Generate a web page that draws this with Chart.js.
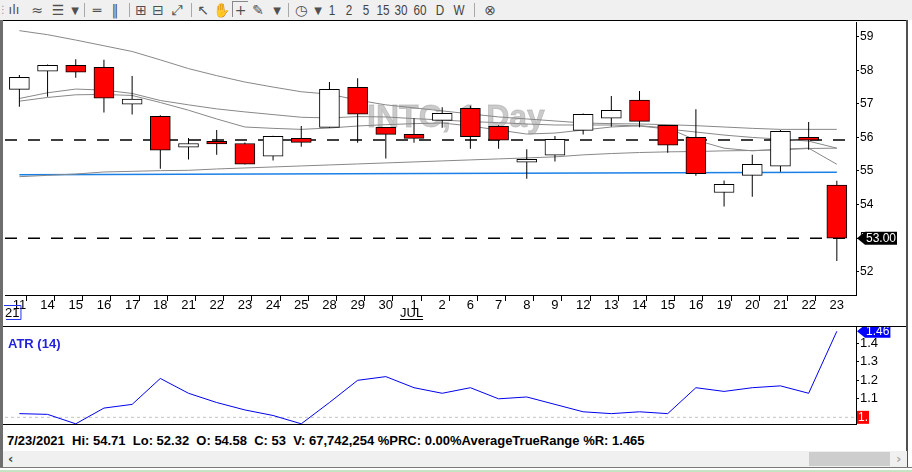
<!DOCTYPE html>
<html>
<head>
<meta charset="utf-8">
<script src="https://cdn.jsdelivr.net/npm/chart.js@4.4.1/dist/chart.umd.min.js"></script>
<style>
  body { margin:0; width:912px; height:472px; overflow:hidden; background:#fff; position:relative; font-family:'Liberation Sans', Arial, sans-serif; }
  #toolbar { position:absolute; left:0; top:0; width:912px; height:20px; background:#f0f0f0; }
  #toolbar span { position:absolute; top:1px; font-size:14px; line-height:18px; color:#505050; transform:translateX(-50%); white-space:nowrap; font-family:'DejaVu Sans', sans-serif; }
  #toolbar span.n { font-family:'Liberation Sans', Arial, sans-serif; font-size:15px; transform:translateX(-50%) scaleX(0.78); color:#444; }
  #toolbar span.s { top:3px; width:1px; height:14px; background:#a8a8a8; transform:none; }
  #toolbar span.dd { font-size:10px; top:2px; }
  .ln { position:absolute; }
  canvas { position:absolute; left:0; }
  #atrTitle { position:absolute; left:8px; top:336px; font:bold 13px/15px 'Liberation Sans', Arial, sans-serif; color:#2222dd; }
  #status { position:absolute; left:7px; top:433px; font:bold 13px/15px 'Liberation Sans', Arial, sans-serif; white-space:pre; color:#000; }
  #scroll { position:absolute; left:3px; top:451px; width:904px; height:16px; background:#f0f0f0; }
  #thumb { position:absolute; left:806px; top:1px; width:81px; height:14px; background:#cdcdcd; }
  #scroll .arr { position:absolute; top:0; font:bold 13px/16px 'DejaVu Sans', sans-serif; }
</style>
</head>
<body>
<div id="toolbar">
  <span style="left:3px;font-size:10px;color:#999">⋮</span>
  <span style="left:14px;font-size:13px">ılı</span>
  <span style="left:37px">≈</span>
  <span style="left:58px">☰</span>
  <span class="dd" style="left:75px">▼</span>
  <span class="s" style="left:84px"></span>
  <span style="left:97px">═</span>
  <span style="left:115px">‖</span>
  <span class="s" style="left:129px"></span>
  <span style="left:141px">⊞</span>
  <span style="left:158px">⊟</span>
  <span style="left:177px">⤢</span>
  <span class="s" style="left:191px"></span>
  <span style="left:203px">↖</span>
  <span style="left:221px">✋</span>
  <span style="left:240px;width:16px;height:16px;top:1px;line-height:16px;text-align:center;border-left:1px solid #888;border-top:1px solid #888;box-sizing:border-box">+</span>
  <span style="left:258px">✎</span>
  <span class="dd" style="left:277px">▼</span>
  <span class="s" style="left:288px"></span>
  <span style="left:301px">◷</span>
  <span class="dd" style="left:318px">▼</span>
  <span class="n" style="left:332px">1</span>
  <span class="n" style="left:349px">2</span>
  <span class="n" style="left:366px">5</span>
  <span class="n" style="left:383px">15</span>
  <span class="n" style="left:401px">30</span>
  <span class="n" style="left:420px">60</span>
  <span class="n" style="left:440px">D</span>
  <span class="n" style="left:459px">W</span>
  <span class="s" style="left:474px"></span>
  <span style="left:490px">⊗</span>
</div>
<div class="ln" style="left:0;top:20px;width:908px;height:1px;background:#000"></div>

<canvas id="price" width="912" height="305" style="top:21px;width:912px;height:305px"></canvas>
<canvas id="atr" width="912" height="98" style="top:326px;width:912px;height:98px"></canvas>

<div class="ln" style="left:0;top:326px;width:908px;height:1px;background:#000"></div>
<div class="ln" style="left:0;top:424px;width:857px;height:1px;background:#000"></div>
<div class="ln" style="left:0;top:20px;width:3px;height:447px;background:#6e6e6e"></div>
<div class="ln" style="left:906px;top:20px;width:2px;height:447px;background:#505050"></div>

<div id="atrTitle"></div>
<div id="status"></div>
<div id="scroll"><span class="arr" style="left:5px;color:#444">‹</span><div id="thumb"></div><span class="arr" style="left:893px;color:#aaa">›</span></div>
<div class="ln" style="left:0;top:467px;width:912px;height:1px;background:#7a7a7a"></div>
<div class="ln" style="left:0;top:470px;width:912px;height:2px;background:#c4e4c4"></div>

<script>
// INTC daily, 11 Jun - 23 Jul 2021
const dayLabels = ['11','14','15','16','17','18','21','22','23','24','25','28','29','30','1','2','6','7','8','9','12','13','14','15','16','19','20','21','22','23'];
const opens  = [57.43,57.97,58.15,58.09,56.99,56.63,55.71,55.88,55.82,55.44,55.97,56.30,57.49,56.30,56.09,56.51,56.87,56.33,55.26,55.47,56.21,56.57,57.11,56.36,56.00,54.36,54.87,55.14,56.00,54.58];
const highs  = [57.86,58.17,58.33,58.31,57.83,56.66,55.98,56.22,55.85,56.05,56.34,57.65,57.76,56.31,56.57,56.90,56.94,56.36,55.65,56.04,56.71,57.23,57.38,56.37,56.84,54.72,55.48,56.22,56.46,54.71];
const lows   = [56.91,57.21,57.78,56.74,56.68,55.07,55.34,55.48,55.19,55.31,55.72,56.29,55.84,55.37,55.84,56.29,55.66,55.66,54.77,55.28,56.09,56.32,56.30,55.54,54.86,53.94,54.23,54.98,55.63,52.32];
const closes = [57.79,58.15,57.94,57.17,57.14,55.62,55.82,55.81,55.20,56.03,55.85,57.43,56.69,56.09,55.97,56.72,56.02,55.92,55.35,55.94,56.69,56.81,56.48,55.77,54.92,54.60,55.20,56.18,55.92,53.00];

// moving averages (gray)
const maSlow = [59.18,59.06,58.90,58.73,58.56,58.31,58.05,57.84,57.65,57.50,57.36,57.29,57.11,56.97,56.88,56.79,56.70,56.61,56.55,56.49,56.43,56.41,56.40,56.38,56.35,56.31,56.27,56.24,56.24,56.24];
const maMid  = [57.16,57.33,57.44,57.41,57.31,57.10,56.97,56.85,56.76,56.68,56.60,56.58,56.62,56.61,56.56,56.52,56.47,56.44,56.40,56.37,56.37,56.37,56.34,56.25,56.16,56.07,56.00,55.95,55.89,55.68];
const maFast = [57.08,57.19,57.27,57.28,57.25,57.04,56.81,56.55,56.31,56.27,56.24,56.28,56.34,56.38,56.41,56.43,56.34,56.22,56.10,56.13,56.22,56.31,56.35,56.28,55.92,55.68,55.60,55.65,55.68,55.20];
const maLong = [54.83,54.87,54.91,54.97,54.99,55.01,55.02,55.06,55.09,55.12,55.15,55.18,55.21,55.24,55.27,55.30,55.33,55.36,55.39,55.42,55.48,55.52,55.55,55.57,55.58,55.60,55.61,55.63,55.67,55.68];

// blue support line: two anchor points
const trendIdx  = [0, 29];
const trendVals = [54.89, 54.96];

// dashed levels: previous close, last close
const priceLevels = [55.92, 53.00];
const priceTicks = [52, 53, 54, 55, 56, 57, 58, 59];

const atrPeriod = 14;
const atrVals  = [1.02,1.016,0.965,1.05,1.07,1.21,1.13,1.08,1.04,1.01,0.965,1.08,1.20,1.22,1.16,1.13,1.16,1.10,1.11,1.07,1.03,1.02,1.03,1.02,1.16,1.14,1.16,1.17,1.13,1.465];
const atrTicks = [1.1, 1.2, 1.3, 1.4];
const atrBase  = 1.0;

const monthMarks = [{ at: 0, text: '21' }, { at: 14, text: 'JUL' }];
const lastDate = '7/23/2021';
const lastVolume = 67742254;

Chart.defaults.font.family = "'Liberation Sans', Arial, sans-serif";
Chart.defaults.color = '#000';

const xMin = -0.51, xMax = 29.68;
const last = closes.length - 1;
const idx = dayLabels.map((_, i) => i);
const xy = vals => vals.map((v, i) => ({ x: i, y: v }));

function maLine(vals, color) {
  return { type: 'line', data: xy(vals), borderColor: color, borderWidth: 1, pointRadius: 0, tension: 0, order: 3 };
}

// labels sit on whole days, tick marks between days
function dayTicks(scale) {
  const t = [];
  idx.forEach(i => { t.push({ value: i - 0.5 }); t.push({ value: i }); });
  scale.ticks = t;
}

// right axis: fixed width, no extra label padding above/below the plot
function rightAxisFit(s) {
  s.width = 56;
  s.paddingTop = 0;
  s.paddingBottom = 0;
}

function tag(ctx, x, y, text, bg, arrow) {
  ctx.save();
  ctx.font = "12px 'Liberation Sans', Arial, sans-serif";
  const w = ctx.measureText(text).width;
  const h = 13;
  ctx.fillStyle = bg;
  ctx.beginPath();
  if (arrow) {
    ctx.moveTo(x, y);
    ctx.lineTo(x + 8, y - h / 2);
    ctx.lineTo(x + 10 + w, y - h / 2);
    ctx.lineTo(x + 10 + w, y + h / 2);
    ctx.lineTo(x + 8, y + h / 2);
    ctx.closePath();
  } else {
    ctx.rect(x, y - h / 2, w + 2, h);
  }
  ctx.fill();
  ctx.fillStyle = '#fff';
  ctx.textBaseline = 'middle';
  ctx.fillText(text, arrow ? x + 9 : x + 1, y + 0.5);
  ctx.restore();
}

const priceDecor = {
  id: 'priceDecor',
  beforeDatasetsDraw(chart) {
    const ctx = chart.ctx;
    ctx.save();
    ctx.font = "bold 32px 'Liberation Sans', Arial, sans-serif";
    ctx.textAlign = 'center';
    ctx.fillStyle = '#cbcbcb';
    ctx.strokeStyle = 'rgba(170,170,170,0.6)';
    ctx.lineWidth = 0.8;
    ctx.fillText('INTC, 1 Day', 456, 106);
    ctx.strokeText('INTC, 1 Day', 456, 106);
    ctx.restore();
  },
  afterDraw(chart) {
    const ctx = chart.ctx;
    const xs = chart.scales.x, ys = chart.scales.y;
    tag(ctx, ys.left + 1, ys.getPixelForValue(closes[last]), closes[last].toFixed(2), '#000', true);
    ctx.save();
    ctx.font = "13px 'Liberation Sans', Arial, sans-serif";
    ctx.textBaseline = 'middle';
    monthMarks.forEach((m, k) => {
      const xl = Math.round(xs.getPixelForValue(m.at - 0.5));
      const w = ctx.measureText(m.text).width;
      ctx.fillStyle = '#000';
      ctx.fillText(m.text, xl, 292);
      if (k === 0) {
        ctx.strokeStyle = '#2233ee';
        ctx.beginPath();
        ctx.moveTo(xl - 1, 284.5); ctx.lineTo(xl + w + 1.5, 284.5);
        ctx.lineTo(xl + w + 1.5, 298.5); ctx.lineTo(xl + 1, 298.5);
        ctx.stroke();
      } else {
        ctx.fillRect(xl, 298, w, 1);
      }
    });
    ctx.restore();
  }
};

new Chart(document.getElementById('price'), {
  type: 'bar',
  data: {
    datasets: [
      { data: idx.map(i => ({ x: i, y: [opens[i], closes[i]] })),
        backgroundColor: closes.map((c, i) => c < opens[i] ? '#ff0000' : '#ffffff'),
        borderColor: '#000', borderWidth: 1, borderSkipped: false,
        grouped: false, barThickness: 20, barPercentage: 1, categoryPercentage: 1, order: 0 },
      { data: idx.map(i => ({ x: i, y: [lows[i], highs[i]] })),
        backgroundColor: '#000', borderWidth: 0, inflateAmount: 0,
        grouped: false, barThickness: 1, barPercentage: 1, categoryPercentage: 1, order: 1 },
      maLine(maSlow, '#888'),
      maLine(maMid, '#888'),
      maLine(maFast, '#888'),
      maLine(maLong, '#888'),
      { type: 'line', data: trendIdx.map((x, k) => ({ x, y: trendVals[k] })),
        borderColor: '#1a80e6', borderWidth: 1.5, pointRadius: 0, order: 3 },
      ...priceLevels.map(v => ({ type: 'line', data: [{ x: xMin, y: v }, { x: xMax, y: v }],
        borderColor: '#000', borderWidth: 1.5, borderDash: [12, 11], pointRadius: 0, order: 4 }))
    ]
  },
  options: {
    responsive: false,
    animation: false,
    layout: { padding: { left: 5, top: 1, right: 0, bottom: 0 } },
    plugins: { legend: { display: false }, tooltip: { enabled: false } },
    scales: {
      x: {
        type: 'linear', min: xMin, max: xMax, offset: false,
        afterBuildTicks: dayTicks,
        afterFit: s => { s.height = 31; s.paddingLeft = 0; s.paddingRight = 0; },
        ticks: { autoSkip: false, maxRotation: 0, minRotation: 0, padding: -3, font: { size: 13 },
                 callback: v => Number.isInteger(v) ? dayLabels[v] : '' },
        grid: { drawOnChartArea: false, tickLength: 6,
                color: c => (c.tick && !Number.isInteger(c.tick.value)) ? '#000' : 'rgba(0,0,0,0)' },
        border: { color: '#000' }
      },
      y: {
        position: 'right', min: 51.306, max: 59.438,
        afterBuildTicks: s => { s.ticks = priceTicks.map(v => ({ value: v })); },
        afterFit: rightAxisFit,
        ticks: { padding: 1, font: { size: 12 }, callback: v => String(v) },
        grid: { drawOnChartArea: false, tickLength: 3, color: '#000' },
        border: { color: '#000' }
      }
    }
  },
  plugins: [priceDecor]
});

const atrDecor = {
  id: 'atrDecor',
  afterDraw(chart) {
    const ctx = chart.ctx, ys = chart.scales.y;
    const v = Math.floor(atrVals[last] * 100) / 100;
    tag(ctx, ys.left + 1, ys.getPixelForValue(atrVals[last]), v.toFixed(2), '#0000ff', true);
    tag(ctx, ys.left + 1, ys.getPixelForValue(atrBase), atrBase.toFixed(1).slice(0, 2), '#ff0000', false);
  }
};

new Chart(document.getElementById('atr'), {
  type: 'line',
  data: {
    datasets: [
      { data: xy(atrVals), borderColor: '#0000ee', borderWidth: 1, pointRadius: 0, tension: 0, order: 0 },
      { data: [{ x: xMin, y: atrBase }, { x: xMax, y: atrBase }],
        borderColor: '#c4c4c4', borderWidth: 1, borderDash: [3, 3], pointRadius: 0, order: 1 }
    ]
  },
  options: {
    responsive: false,
    animation: false,
    layout: { padding: { left: 5, top: 1, right: 0, bottom: 0 } },
    plugins: { legend: { display: false }, tooltip: { enabled: false } },
    scales: {
      x: { type: 'linear', min: xMin, max: xMax, display: false },
      y: {
        position: 'right', min: 0.964, max: 1.488,
        afterBuildTicks: s => { s.ticks = atrTicks.map(v => ({ value: v })); },
        afterFit: rightAxisFit,
        ticks: { padding: 1, font: { size: 13 }, callback: v => v.toFixed(1) },
        grid: { drawOnChartArea: false, tickLength: 3, color: '#000' },
        border: { color: '#000' }
      }
    }
  },
  plugins: [atrDecor]
});

document.getElementById('atrTitle').textContent = 'ATR (' + atrPeriod + ')';
document.getElementById('status').textContent =
  lastDate + '  Hi: ' + highs[last] + '  Lo: ' + lows[last] + '  O: ' + opens[last] +
  '  C: ' + closes[last] + '  V: ' + lastVolume.toLocaleString('en-US') +
  ' %PRC: 0.00%AverageTrueRange %R: ' + atrVals[last];
</script>
</body>
</html>
